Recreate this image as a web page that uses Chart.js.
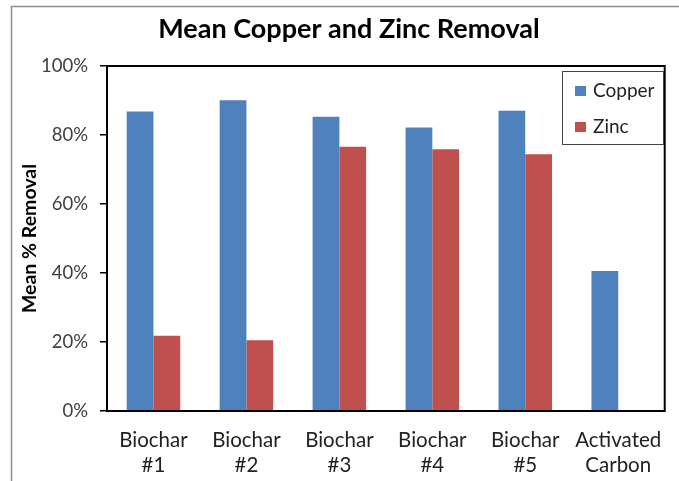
<!DOCTYPE html>
<html>
<head>
<meta charset="utf-8">
<script src="https://cdn.jsdelivr.net/npm/chart.js@4.4.1/dist/chart.umd.min.js"></script>
<style>
  html, body { margin: 0; padding: 0; background: #fff; }
  canvas { display: block; }
</style>
</head>
<body>
<canvas id="removalChart" width="679" height="481"></canvas>
<script>
const chartTitle = "Mean Copper and Zinc Removal";
const yTitle = "Mean % Removal";
const categories = [
  ["Biochar", "#1"],
  ["Biochar", "#2"],
  ["Biochar", "#3"],
  ["Biochar", "#4"],
  ["Biochar", "#5"],
  ["Activated", "Carbon"],
];
const copper = [86.8, 90.1, 85.3, 82.2, 87.0, 40.6];
const zinc = [21.8, 20.5, 76.6, 75.9, 74.4, 0];
const yTickStep = 20;

const FONT = "Lato, 'Open Sans', sans-serif";

// frame lines, plot border, title and the boxed legend
const decorations = {
  id: "decorations",
  beforeDraw(chart) {
    const ctx = chart.ctx;
    ctx.save();
    ctx.fillStyle = "#fff";
    ctx.fillRect(0, 0, chart.width, chart.height);
    ctx.strokeStyle = "#8c8c8c";
    ctx.lineWidth = 1.5;
    ctx.beginPath();
    ctx.moveTo(11.5, chart.height);
    ctx.lineTo(11.5, 6.5);
    ctx.lineTo(chart.width, 6.5);
    ctx.stroke();
    ctx.restore();
  },
  afterDraw(chart) {
    const ctx = chart.ctx;
    const a = chart.chartArea;
    ctx.save();
    ctx.strokeStyle = "#000";
    ctx.lineWidth = 2;
    ctx.strokeRect(a.left, a.top, a.right - a.left, a.bottom - a.top);

    // title
    ctx.fillStyle = "#000";
    ctx.font = "bold 27px " + FONT;
    ctx.textAlign = "center";
    ctx.textBaseline = "middle";
    ctx.fillText(chartTitle, 349, 29);

    // legend
    const lx = 562, ly = 71, lw = 101, lh = 73;
    ctx.fillStyle = "#fff";
    ctx.fillRect(lx, ly, lw, lh);
    ctx.strokeStyle = "#444";
    ctx.lineWidth = 1;
    ctx.strokeRect(lx + 0.5, ly + 0.5, lw, lh);
    ctx.font = "19px " + FONT;
    ctx.textAlign = "left";
    chart.data.datasets.forEach((ds, i) => {
      const cy = 91 + i * 36;
      ctx.fillStyle = ds.backgroundColor;
      ctx.fillRect(575, cy - 5, 11, 10);
      ctx.fillStyle = "#222";
      ctx.fillText(ds.label, 593, cy);
    });
    ctx.restore();
  },
};

new Chart(document.getElementById("removalChart"), {
  type: "bar",
  data: {
    labels: categories,
    datasets: [
      { label: "Copper", data: copper, backgroundColor: "#4F81BD" },
      { label: "Zinc", data: zinc, backgroundColor: "#C0504D" },
    ],
  },
  options: {
    responsive: false,
    devicePixelRatio: 1,
    animation: false,
    layout: { padding: { left: 12, top: 66, right: 9, bottom: 0 } },
    datasets: {
      bar: { categoryPercentage: 0.576, barPercentage: 1.0 },
    },
    scales: {
      x: {
        grid: { display: false, drawTicks: false },
        border: { display: false },
        ticks: {
          font: { family: FONT, size: 20.5, lineHeight: 1.2 },
          color: "#222",
          padding: 17,
          maxRotation: 0,
          autoSkip: false,
        },
        afterFit: (s) => { s.height = 70; },
      },
      y: {
        min: 0,
        max: 100,
        grid: {
          drawOnChartArea: false,
          drawTicks: true,
          tickLength: 7,
          color: "#000",
          lineWidth: 1.5,
        },
        border: { display: false },
        ticks: {
          stepSize: yTickStep,
          callback: (v) => v + "%",
          font: { family: FONT, size: 18.5 },
          color: "#404040",
          padding: 12,
        },
        title: {
          display: true,
          text: yTitle,
          font: { family: FONT, size: 19.5, weight: "bold" },
          color: "#000",
          padding: { top: 6, bottom: 0 },
        },
        afterFit: (s) => { s.width = 95; },
      },
    },
    plugins: {
      legend: { display: false },
      tooltip: { enabled: false },
      title: { display: false },
    },
  },
  plugins: [decorations],
});
</script>
</body>
</html>
